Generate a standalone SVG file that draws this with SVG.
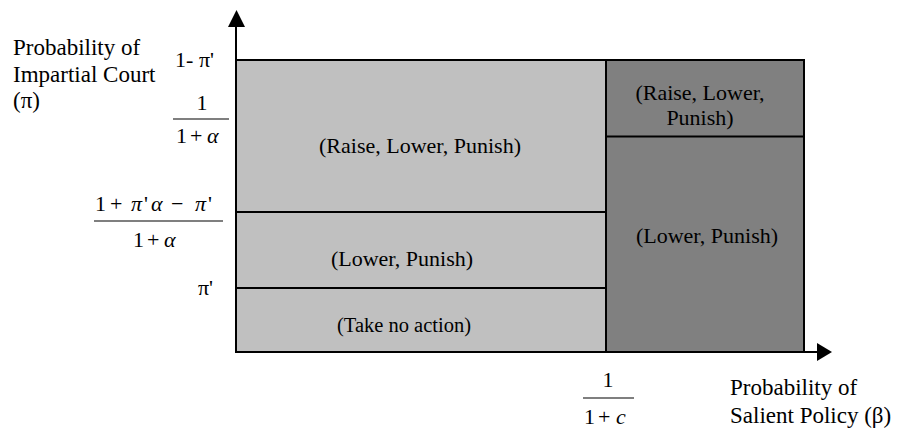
<svg xmlns="http://www.w3.org/2000/svg" width="908" height="435" viewBox="0 0 908 435">
<style>
.light{fill:#c0c0c0;stroke:#000;stroke-width:2;}
.dark{fill:#808080;stroke:#000;stroke-width:2;}
.ln{stroke:#000;stroke-width:2;fill:none;}
.fr{stroke:#000;stroke-width:1.2;}
</style>
<rect width="908" height="435" fill="#fff"/>
<g id="region-left">
<rect class="light" x="236" y="60" width="370" height="292"/>
</g>
<g id="region-right">
<rect class="dark" x="606" y="60" width="198" height="292"/>
</g>
<g id="node-raise-lower-punish">
<text font-family="Liberation Serif" font-size="22" x="420" y="153" text-anchor="middle">(Raise, Lower, Punish)</text>
</g>
<g id="node-lower-punish">
<text font-family="Liberation Serif" font-size="22" x="402" y="266" text-anchor="middle">(Lower, Punish)</text>
</g>
<g id="node-take-no-action">
<text font-family="Liberation Serif" font-size="20.5" x="404" y="332" text-anchor="middle">(Take no action)</text>
</g>
<g id="node-right-raise">
<text font-family="Liberation Serif" font-size="22" x="700" y="100" text-anchor="middle">(Raise, Lower,</text>
<text font-family="Liberation Serif" font-size="22" x="700" y="125" text-anchor="middle">Punish)</text>
</g>
<g id="node-right-lower">
<text font-family="Liberation Serif" font-size="22" x="707" y="243" text-anchor="middle">(Lower, Punish)</text>
</g>
<g id="connectors">
<line class="ln" x1="236" y1="212" x2="606" y2="212"/>
<line class="ln" x1="236" y1="288" x2="606" y2="288"/>
<line class="ln" x1="606" y1="136.5" x2="804" y2="136.5"/>
<line class="ln" x1="236" y1="353" x2="236" y2="26"/>
<polygon points="236.5,10 228,27 245,27" fill="#000"/>
<line class="ln" x1="235" y1="352" x2="818" y2="352"/>
<polygon points="832,352 817,343 817,361" fill="#000"/>
</g>
<g id="y-axis-label">
<text font-family="Liberation Serif" font-size="23" x="13" y="55">Probability of</text>
<text font-family="Liberation Serif" font-size="23" x="13" y="82">Impartial Court</text>
<text font-family="Liberation Serif" font-size="23" x="13" y="108">(π)</text>
</g>
<g id="y-ticks">
<text font-family="Liberation Serif" font-size="22" x="175" y="67">1-<tspan x="199">π'</tspan></text>
<text font-family="Liberation Serif" font-size="22" x="202" y="110" text-anchor="middle">1</text>
<line class="fr" x1="173" y1="119" x2="229" y2="119"/>
<text font-family="Liberation Serif" font-size="22" x="176" y="143">1<tspan x="190">+</tspan><tspan x="207" font-style="italic">α</tspan></text>
<text font-family="Liberation Serif" font-size="22" x="95" y="211">1<tspan x="110">+</tspan><tspan x="131" font-style="italic">π</tspan><tspan x="144">'</tspan><tspan x="151" font-style="italic">α</tspan><tspan x="171">−</tspan><tspan x="195" font-style="italic">π</tspan><tspan x="208">'</tspan></text>
<line class="fr" x1="94" y1="221" x2="223" y2="221"/>
<text font-family="Liberation Serif" font-size="22" x="133" y="247">1<tspan x="147">+</tspan><tspan x="164" font-style="italic">α</tspan></text>
<text font-family="Liberation Serif" font-size="22" x="198" y="295">π'</text>
</g>
<g id="x-ticks">
<text font-family="Liberation Serif" font-size="22" x="608" y="387" text-anchor="middle">1</text>
<line class="fr" x1="583" y1="398" x2="634" y2="398"/>
<text font-family="Liberation Serif" font-size="22" x="584" y="424">1<tspan x="598">+</tspan><tspan x="616" font-style="italic">c</tspan></text>
</g>
<g id="x-axis-label">
<text font-family="Liberation Serif" font-size="23" x="730" y="395">Probability of</text>
<text font-family="Liberation Serif" font-size="23" x="730" y="423">Salient Policy (β)</text>
</g>
</svg>
